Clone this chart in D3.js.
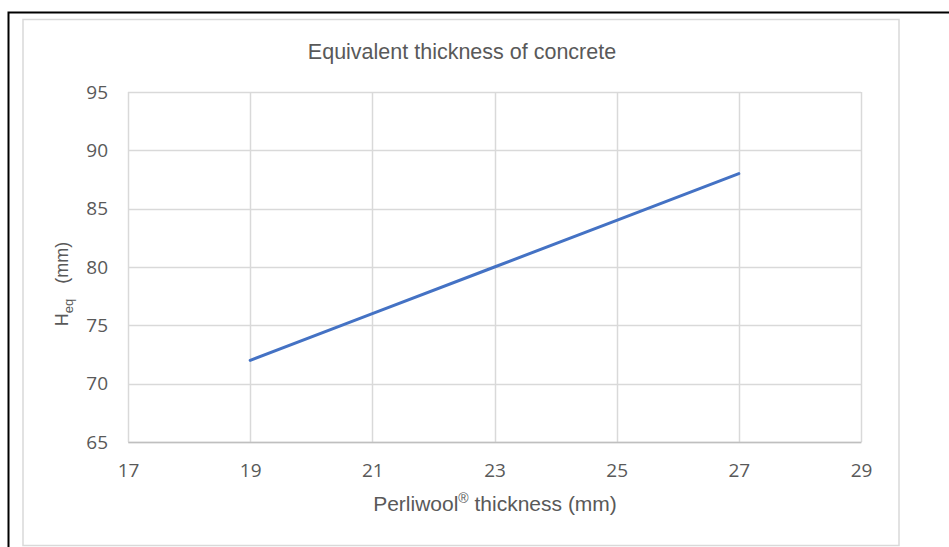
<!DOCTYPE html>
<html>
<head>
<meta charset="utf-8">
<script src="https://cdn.jsdelivr.net/npm/d3@7/dist/d3.min.js"></script>
<style>
  html, body { margin: 0; padding: 0; background: #ffffff; }
  svg { display: block; }
</style>
</head>
<body>
<svg id="chart" width="949" height="547"></svg>
<script>
// Perliwool thickness (mm) against equivalent concrete thickness Heq (mm)
const thickness = [19, 21, 23, 25, 27];
const heq = [72, 76, 80, 84, 88];
const xTicks = [17, 19, 21, 23, 25, 27, 29];
const yTicks = [65, 70, 75, 80, 85, 90, 95];
const titleText = "Equivalent thickness of concrete";
const xTitleText = "Perliwool";
const yTitleText = "H";

const svg = d3.select("#chart");

// outer frame (black, open at right/bottom)
svg.append("path")
  .attr("d", "M8.5,547 L8.5,12.5 L949,12.5")
  .attr("fill", "none").attr("stroke", "#000").attr("stroke-width", 2);

// chart area border
svg.append("rect")
  .attr("x", 23).attr("y", 19.5).attr("width", 876).attr("height", 526)
  .attr("fill", "#fff").attr("stroke", "#d9d9d9").attr("stroke-width", 1.5);

const plot = { left: 128, top: 92, right: 861, bottom: 442 };

const x = d3.scaleLinear().domain([17, 29]).range([plot.left, plot.right]);
const y = d3.scaleLinear().domain([65, 95]).range([plot.bottom, plot.top]);

const tickFont = "'Open Sans', 'Noto Sans', sans-serif";

// grid lines
const grid = svg.append("g");
grid.selectAll("line.h").data(yTicks).join("line")
  .attr("x1", plot.left).attr("x2", plot.right)
  .attr("y1", d => Math.round(y(d)) + 0.5).attr("y2", d => Math.round(y(d)) + 0.5)
  .attr("stroke", "#d9d9d9").attr("stroke-width", 1.5);
grid.selectAll("line.v").data(xTicks).join("line")
  .attr("y1", plot.top).attr("y2", plot.bottom)
  .attr("x1", d => Math.round(x(d)) + 0.5).attr("x2", d => Math.round(x(d)) + 0.5)
  .attr("stroke", "#d9d9d9").attr("stroke-width", 1.5);

// axes (labels only; lines come from the grid)
const xAxis = svg.append("g")
  .attr("transform", `translate(0,${plot.bottom})`)
  .call(d3.axisBottom(x).tickValues(xTicks).tickSize(0).tickPadding(22));
xAxis.select(".domain").attr("stroke", "#bfbfbf").attr("stroke-width", 1.5);
xAxis.selectAll("text").attr("fill", "#595959")
  .style("font-family", tickFont).style("font-size", "19px");

const yAxis = svg.append("g")
  .attr("transform", `translate(${plot.left},0)`)
  .call(d3.axisLeft(y).tickValues(yTicks).tickSize(0).tickPadding(20));
yAxis.select(".domain").remove();
yAxis.selectAll("text").attr("fill", "#595959")
  .style("font-family", tickFont).style("font-size", "19px");

// series line
const line = d3.line().x((d, i) => x(thickness[i])).y(d => y(d));
svg.append("path")
  .datum(heq)
  .attr("d", line)
  .attr("fill", "none")
  .attr("stroke", "#4472c4")
  .attr("stroke-width", 3)
  .attr("stroke-linecap", "round");

const titleFont = "'Liberation Sans', Arial, sans-serif";

// chart title
svg.append("text")
  .attr("x", 462).attr("y", 59)
  .attr("text-anchor", "middle")
  .attr("fill", "#595959")
  .style("font-family", titleFont).style("font-size", "21.5px")
  .text(titleText);

// x-axis title with registered mark
const xt = svg.append("text")
  .attr("x", 495).attr("y", 511)
  .attr("text-anchor", "middle")
  .attr("fill", "#595959")
  .style("font-family", titleFont).style("font-size", "21px");
xt.append("tspan").text(xTitleText);
xt.append("tspan").attr("dy", -8).style("font-size", "14px").text("®");
xt.append("tspan").attr("dy", 8).text(" thickness (mm)");

// y-axis title with subscript
const yt = svg.append("text")
  .attr("transform", "translate(68,284) rotate(-90)")
  .attr("text-anchor", "middle")
  .attr("fill", "#595959")
  .style("font-family", titleFont).style("font-size", "18px")
  .attr("xml:space", "preserve");
yt.append("tspan").text(yTitleText);
yt.append("tspan").attr("dy", 5).style("font-size", "13px").text("eq");
yt.append("tspan").attr("dy", -5).text("   (mm)");
</script>
</body>
</html>
